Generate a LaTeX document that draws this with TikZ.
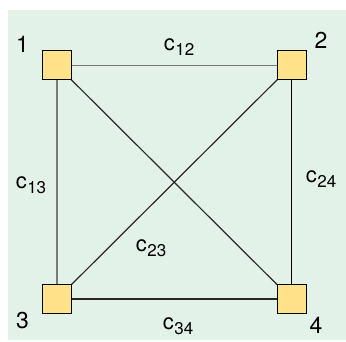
\documentclass[tikz,border=0pt]{standalone}
\usepackage{fontspec}
\setmainfont{TeX Gyre Heros}
\usepackage{tikz}
\usetikzlibrary{positioning}
\definecolor{panelgreen}{RGB}{227,242,233}
\definecolor{nodeyellow}{RGB}{255,226,138}
\definecolor{linegray}{RGB}{120,120,120}
\definecolor{linedark}{RGB}{40,40,40}
\newcommand{\cost}[1]{c\kern0.5pt\raisebox{-4.5pt}{\fontsize{17}{17}\selectfont #1}}

\begin{document}
\begin{tikzpicture}[
    x=1pt, y=1pt,
    site/.style={draw, fill=nodeyellow, line width=1pt, minimum size=29pt,
                 inner sep=0pt},
    num/.style={font=\fontsize{23}{25}\selectfont, inner sep=0pt},
    lbl/.style={font=\fontsize{22}{24}\selectfont, inner sep=0pt},
    lite/.style={draw=linegray, line width=1.4pt},
    dark/.style={draw=linedark, line width=1.2pt}
  ]
    \useasboundingbox (0,0) rectangle (346,342);
    \fill[panelgreen] (8,2) rectangle (346,332);

    % links first, boxes on top
    \coordinate (p1) at (57,276.5);
    \coordinate (p2) at (291.5,276.5);
    \coordinate (p3) at (57,43);
    \coordinate (p4) at (291.5,43);
    \draw[lite] (p1) -- (p2);
    \draw[lite] (p1) -- (p3);
    \draw[dark] (p1) -- (p4);
    \draw[dark] (p2) -- (p3);
    \draw[draw=black, line width=1.2pt] (p2) -- (p4);
    \draw[dark] (p3) -- (p4);

    \node[site] (n1) at (p1) {};
    \node[site] (n2) at (p2) {};
    \node[site] (n3) at (p3) {};
    \node[site] (n4) at (p4) {};

    \node[num] (k1) at (22.5,298) {1};
    \node[num] (k2) at (321,302) {2};
    \node[num] (k3) at (22.5,21) {3};
    \node[num] (k4) at (316,17) {4};

    \node[lbl] (c12) at (179,295) {\cost{12}};
    \node[lbl] (c34) at (178,16) {\cost{34}};
    \node[lbl] (c13) at (31,157) {\cost{13}};
    \node[lbl] (c24) at (321,163) {\cost{24}};
    \node[lbl] (c23) at (151,94) {\cost{23}};
\end{tikzpicture}
\end{document}
